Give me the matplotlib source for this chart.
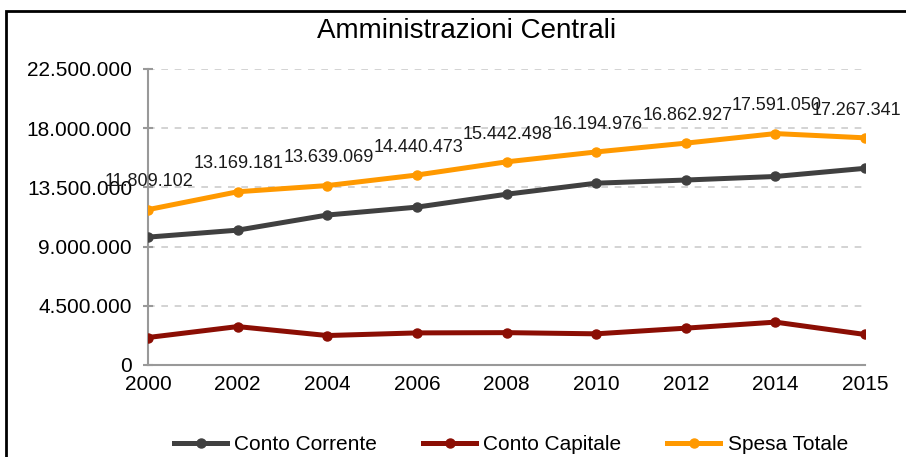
import matplotlib
matplotlib.use('Agg')
import matplotlib.pyplot as plt
from matplotlib.patches import Rectangle
from matplotlib.ticker import FuncFormatter

plt.rcParams['font.family'] = ['Liberation Sans', 'DejaVu Sans']

anni = ['2000', '2002', '2004', '2006', '2008', '2010', '2012', '2014', '2015']
spesa_totale = [11809102, 13169181, 13639069, 14440473, 15442498,
                16194976, 16862927, 17591050, 17267341]
conto_corrente = [9720000, 10250000, 11400000, 12000000, 12980000,
                  13820000, 14060000, 14330000, 14950000]
conto_capitale = [2090000, 2920000, 2240000, 2440000, 2460000,
                  2370000, 2800000, 3260000, 2320000]
yticks = [0, 4500000, 9000000, 13500000, 18000000, 22500000]


def dots(v):
    return f'{int(v):,}'.replace(',', '.')


fig = plt.figure(figsize=(9.06, 4.57), dpi=100)
# axes box in pixels: x 148..865, y 69..365
ax = fig.add_axes([148 / 906, 1 - 365 / 457, 717 / 906, 296 / 457])
x = list(range(len(anni)))

ax.plot(x, conto_corrente, color='#404040', lw=3.6, marker='o', ms=6.5,
        label='Conto Corrente', zorder=3)
ax.plot(x, conto_capitale, color='#8B0E04', lw=3.6, marker='o', ms=6.5,
        label='Conto Capitale', zorder=3)
ax.plot(x, spesa_totale, color='#FF9900', lw=3.6, marker='o', ms=6.5,
        label='Spesa Totale', zorder=3)

for xi, v in zip(x, spesa_totale):
    # last label pushed a bit left so it stays inside the chart, like Excel does
    dx = -6 if xi == x[-1] else 1
    ax.annotate(dots(v), (xi, v), xytext=(dx, 20), textcoords='offset points',
                ha='center', va='center', fontsize=13, color='#1a1a1a',
                annotation_clip=False)

ax.set_xlim(0, len(anni) - 1)
ax.set_ylim(0, 22500000)
ax.set_xticks(x)
ax.set_xticklabels(anni, fontsize=15)
ax.set_yticks(yticks)
ax.yaxis.set_major_formatter(FuncFormatter(lambda v, p: dots(v)))
ax.tick_params(axis='y', labelsize=15, length=7, direction='inout',
               color='#999999', width=1.5, pad=8)
ax.tick_params(axis='x', length=0, pad=7)
ax.grid(axis='y', color='#cccccc', linestyle=(0, (4, 4)), lw=1.2)
ax.set_axisbelow(True)
for s in ['top', 'right']:
    ax.spines[s].set_visible(False)
for s in ['left', 'bottom']:
    ax.spines[s].set_color('#999999')
    ax.spines[s].set_linewidth(1.5)

fig.text(467 / 906, 1 - 31 / 457, 'Amministrazioni Centrali', ha='center',
         va='center', fontsize=20)
fig.legend(loc='center', bbox_to_anchor=(511 / 906, 12 / 457), ncol=3,
           frameon=False, fontsize=15, handlelength=2.55, columnspacing=2.2,
           handletextpad=0.34, borderaxespad=0, borderpad=0)

fig.patches.append(Rectangle((6 / 906, -0.1), 1.2, 1 - 11 / 457 + 0.1,
                             transform=fig.transFigure, fill=False,
                             edgecolor='black', lw=2))

fig.savefig('out.png', dpi=100)
